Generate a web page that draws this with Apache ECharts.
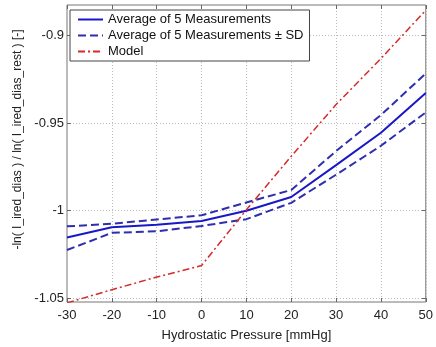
<!DOCTYPE html>
<html>
<head>
<meta charset="utf-8">
<script src="https://cdn.jsdelivr.net/npm/echarts@6/dist/echarts.min.js"></script>
<style>
  html, body { margin: 0; padding: 0; background: #fff; }
  #chart { width: 436px; height: 347px; }
</style>
</head>
<body>
<div id="chart"></div>
<script>
// hydrostatic pressure [mmHg]
const pressure = [-30, -20, -10, 0, 10, 20, 30, 40, 50];
const meanVals = [-1.0153, -1.0094, -1.0080, -1.0058, -1.0000, -0.9922, -0.9740, -0.9556, -0.9330];
const upperVals = [-1.0089, -1.0074, -1.0050, -1.0026, -0.9953, -0.9882, -0.9660, -0.9455, -0.9218];
const lowerVals = [-1.0224, -1.0126, -1.0117, -1.0087, -1.0048, -0.9955, -0.9795, -0.9630, -0.9440];
const modelVals = [-1.0525, -1.0450, -1.0378, -1.0312, -0.9995, -0.9690, -0.9395, -0.9133, -0.8858];
const yTicks = [-1.05, -1, -0.95, -0.9];

const FONT = 'Liberation Sans, Arial, sans-serif';
const zip = (ys) => pressure.map((x, i) => [x, ys[i]]);

const chart = echarts.init(document.getElementById('chart'));

const Y_MIN = -1.052, Y_MAX = -0.8828;

const tickStyle = { show: true, inside: true, length: 4, lineStyle: { color: '#666' } };
const noLine = { show: false, onZero: false };
const gridLine = { show: true, lineStyle: { color: '#bbb', type: [1, 2] } };

chart.setOption({
  animation: false,
  backgroundColor: '#fff',
  grid: {
    left: 67, right: 9, top: 5, bottom: 37,
    show: true, borderColor: '#777', borderWidth: 1
  },
  legend: {
    orient: 'vertical',
    left: 70, top: 10,
    padding: [3, 6, 3, 7],
    itemWidth: 25, itemHeight: 14, itemGap: 3,
    backgroundColor: '#fff',
    borderColor: '#444', borderWidth: 1,
    itemStyle: { opacity: 0 },
    textStyle: { fontFamily: FONT, fontSize: 13, color: '#111' },
    data: ['Average of 5 Measurements', 'Average of 5 Measurements ± SD', 'Model']
  },
  xAxis: [{
    type: 'value', min: -30, max: 50, interval: 10,
    name: 'Hydrostatic Pressure [mmHg]', nameLocation: 'middle', nameGap: 27,
    nameTextStyle: { fontFamily: FONT, fontSize: 13, color: '#222' },
    axisLine: noLine,
    axisTick: tickStyle,
    axisLabel: { fontFamily: FONT, fontSize: 13, color: '#222', margin: 7 },
    splitLine: gridLine
  }, {
    type: 'value', min: -30, max: 50, interval: 10, position: 'top',
    axisLine: noLine, axisTick: tickStyle,
    axisLabel: { show: false }, splitLine: { show: false }
  }],
  yAxis: [{
    type: 'value', min: Y_MIN, max: Y_MAX,
    name: '-ln( I_ired_dias ) / ln( I_ired_dias_rest ) [-]',
    nameLocation: 'middle', nameGap: 37,
    nameTextStyle: { fontFamily: FONT, fontSize: 12, color: '#222', padding: [0, 0, 0, 28] },
    axisLine: noLine,
    axisTick: Object.assign({ customValues: yTicks }, tickStyle),
    axisLabel: { customValues: yTicks, fontFamily: FONT, fontSize: 13, color: '#222', margin: 3 },
    splitLine: gridLine
  }, {
    type: 'value', min: Y_MIN, max: Y_MAX, position: 'right',
    axisLine: noLine,
    axisTick: Object.assign({ customValues: yTicks }, tickStyle),
    axisLabel: { show: false }, splitLine: { show: false }
  }],
  series: [{
    name: 'Average of 5 Measurements', type: 'line', data: zip(meanVals),
    symbol: 'none', lineStyle: { color: '#1818c8', width: 2 }, itemStyle: { color: '#1818c8' }
  }, {
    name: 'Average of 5 Measurements ± SD', type: 'line', data: zip(upperVals),
    symbol: 'none', lineStyle: { color: '#2e2eb0', width: 2, type: [8, 4] }, itemStyle: { color: '#2e2eb0' }
  }, {
    name: 'Average of 5 Measurements ± SD', type: 'line', data: zip(lowerVals),
    symbol: 'none', lineStyle: { color: '#2e2eb0', width: 2, type: [8, 4] }, itemStyle: { color: '#2e2eb0' }
  }, {
    name: 'Model', type: 'line', data: zip(modelVals),
    symbol: 'none', lineStyle: { color: '#d42a2a', width: 1.5, type: [7, 3, 2, 3] }, itemStyle: { color: '#d42a2a' }
  }]
});
</script>
</body>
</html>
